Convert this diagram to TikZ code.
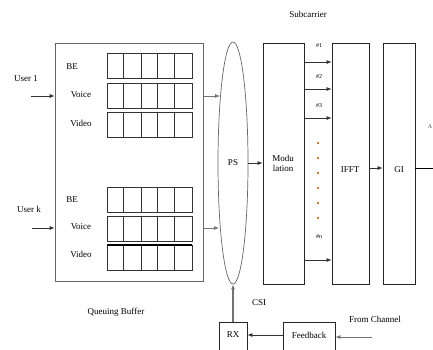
\documentclass[tikz,border=0pt]{standalone}
\usepackage{fontspec}
\setmainfont{Liberation Serif}
\usetikzlibrary{arrows.meta,shapes.geometric}
\begin{document}
\begin{tikzpicture}[x=1pt,y=-1pt,
  lbl/.style={font=\fontsize{9}{10}\selectfont, inner sep=0pt},
  small/.style={font=\fontsize{6}{7}\selectfont, inner sep=0pt},
  blk/.style={draw=black!85, line width=0.8pt},
  arr/.style={-{Latex[length=5pt,width=4pt]}, line width=0.7pt, draw=black!80},
  garr/.style={-{Latex[length=5pt,width=4pt]}, line width=0.7pt, draw=black!55},
  cell/.style={draw=black!80, line width=0.6pt},
  dotmark/.style={fill=brown!85!orange, inner sep=0pt, minimum size=1.1pt, shape=rectangle}]
\useasboundingbox (0,0) rectangle (433,349);

% queuing buffer frame
\node[draw=black!60, line width=0.7pt, minimum width=148pt, minimum height=238pt, inner sep=0pt] (qb) at (129,162) {};

% queue rows: three per user, five cells each
\foreach \g/\ya/\yb/\yc in {1/53/83/112, 2/187/216/245} {
  \foreach \r/\y in {1/\ya, 2/\yb, 3/\yc} {
    \draw[cell] (107,\y) rectangle (192,\y+25);
    \foreach \cx in {123,141,157,174} \draw[cell] (\cx,\y) -- (\cx,\y+25);
  }
}
\draw[line width=1.6pt] (107,245) -- (192,245);

\node[lbl] (be1) at (72,67) {BE};
\node[lbl] (vo1) at (81,95) {Voice};
\node[lbl] (vi1) at (81,123) {Video};
\node[lbl] (be2) at (72,200) {BE};
\node[lbl] (vo2) at (81,227) {Voice};
\node[lbl] (vi2) at (81,254) {Video};

\node[lbl] (u1) at (26,79) {User 1};
\node[lbl] (uk) at (29,209) {User k};
\coordinate (u1s) at (31,96);
\coordinate (uks) at (32,228);
\draw[arr] (u1s) -- (qb.west |- u1s);
\draw[arr] (uks) -- (qb.west |- uks);

\node[lbl] (qlab) at (116,312) {Queuing Buffer};

% packet scheduler
\node[draw=black!60, line width=0.7pt, ellipse, minimum width=30pt, minimum height=242pt, inner sep=0pt] (ps) at (233,163) {};
\node[lbl] (pst) at (233,163) {PS};
\coordinate (e1) at (220,96);
\coordinate (e2) at (219,228);
\draw[garr] (qb.east |- e1) -- (e1);
\draw[garr] (qb.east |- e2) -- (e2);

% modulation, IFFT, GI
\node[blk, minimum width=41pt, minimum height=241pt, inner sep=0pt] (mod) at (283.5,163.5) {};
\node[lbl, align=center] (modt) at (283,163) {Modu\\lation};
\node[blk, minimum width=37pt, minimum height=241pt, inner sep=0pt] (ifft) at (350.5,163.5) {};
\node[lbl] (ifftt) at (350,170) {IFFT};
\node[blk, minimum width=32pt, minimum height=241pt, inner sep=0pt] (gi) at (399,163.5) {};
\node[lbl] (git) at (399,170) {GI};

\coordinate (pso) at (248,163);
\draw[arr] (pso) -- (mod.west |- pso);
\coordinate (ia) at (369,168);
\draw[arr] (ia) -- (gi.west |- ia);
\coordinate (gout) at (440,168);
\draw[line width=0.7pt] (gi.east |- gout) -- (gout);
\node[small, anchor=east, text=black!70] (cut) at (432.5,127) {A};

% subcarriers
\node[lbl] (sub) at (308,14) {Subcarrier};
\foreach \n/\y in {1/62, 2/89, 3/118, 4/260} {
  \coordinate (s\n) at (304,\y);
  \draw[arr] (s\n) -- (ifft.west |- s\n);
}
\node[small] (l1) at (319,46) {\#1};
\node[small] (l2) at (319,77) {\#2};
\node[small] (l3) at (319,106) {\#3};
\node[small] (ln) at (319,237) {\#n};
\foreach \y [count=\i] in {143,158,173,188,203,218}
  \node[dotmark] (d\i) at (318,\y) {};

% feedback path
\node[draw=black!85, line width=0.8pt, minimum width=28pt, minimum height=30pt, inner sep=0pt, anchor=north] (rx) at (233,322) {};
\node[lbl] (rxt) at (233,335) {RX};
\node[draw=black!85, line width=0.8pt, minimum width=52pt, minimum height=30pt, inner sep=0pt, anchor=north] (fb) at (309,322) {};
\node[lbl] (fbt) at (309,335) {Feedback};
\node[lbl] (csi) at (259,303) {CSI};
\node[lbl] (fc) at (375,319) {From Channel};
\coordinate (fcs) at (372,337);
\draw[garr] (fcs) -- (fb.east |- fcs);
\draw[arr] (fb.west |- rxt) -- (rx.east |- rxt);
\draw[-{Latex[length=5pt,width=4pt]}, line width=1.2pt, draw=black!55] (rx.north) -- (ps.south);
\end{tikzpicture}
\end{document}
